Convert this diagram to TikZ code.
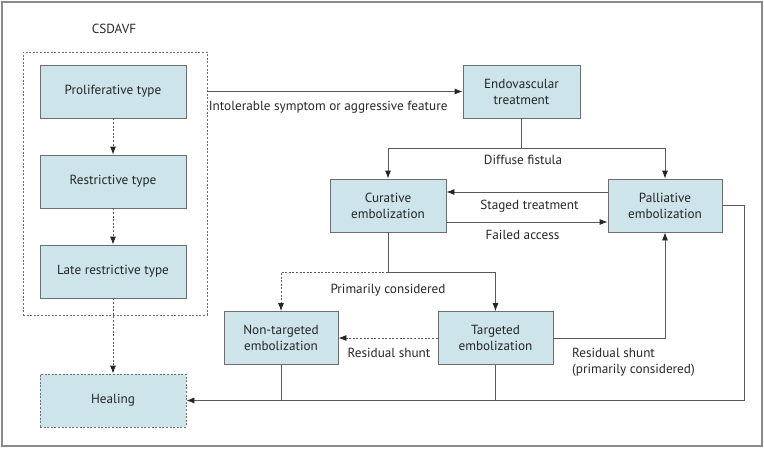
\documentclass[tikz,border=0pt]{standalone}
\usepackage{fontspec}
\setmainfont{PT Sans}
\usetikzlibrary{arrows.meta, positioning}

\definecolor{boxfill}{HTML}{CCE4EA}
\definecolor{boxline}{HTML}{6E6E6E}
\definecolor{wire}{HTML}{5A5A5A}
\definecolor{inkdark}{HTML}{262626}
\definecolor{frame}{HTML}{8A8A8A}

\begin{document}
\begin{tikzpicture}[
    x=1pt, y=-1pt,
    font=\fontsize{13.2}{16}\selectfont,
    text=inkdark,
    box/.style={
        draw=boxline,
        fill=boxfill,
        line width=0.8pt,
        minimum width=146pt,
        minimum height=53pt,
        align=center,
        inner sep=2pt,
    },
    smallbox/.style={
        box,
        minimum width=115pt,
    },
    dotbox/.style={
        draw=boxline,
        line width=0.8pt,
        dash pattern=on 2pt off 1.6pt,
    },
    flow/.style={
        draw=wire,
        line width=0.8pt,
        -{Latex[length=8pt, width=6pt, color=inkdark]},
    },
    plain/.style={
        draw=wire,
        line width=0.8pt,
    },
    dotflow/.style={
        flow,
        dash pattern=on 2pt off 1.6pt,
    },
    lbl/.style={
        inner sep=1pt,
        align=left,
    }
]
    % Frame
    \useasboundingbox (0,0) rectangle (764,448);
    \draw[frame, line width=1.2pt] (2,2) rectangle (762,446);

    % Stages
    \node (csdavf) at (114,29) {CSDAVF};
    \node[dotbox, minimum width=184pt, minimum height=263pt] (typegroup) at (115,183.5) {};
    \node[box] (prolif) at (113,91.5) {Proliferative type};
    \node[box] (restrict) at (113,181.5) {Restrictive type};
    \node[box] (laterestrict) at (113,271.5) {Late restrictive type};
    \node[box, dash pattern=on 2pt off 1.6pt] (healing) at (113,400.5) {Healing};

    % Treatment
    \node[smallbox, minimum width=117pt] (endo) at (521.5,91.5) {Endovascular\\treatment};
    \node[smallbox, minimum width=116pt] (curative) at (388,205.5) {Curative\\embolization};
    \node[smallbox, minimum width=114pt] (palliative) at (665,205.5) {Palliative\\embolization};
    \node[smallbox, minimum width=114pt] (nontargeted) at (281,338) {Non-targeted\\embolization};
    \node[smallbox, minimum width=115pt] (targeted) at (495.5,338) {Targeted\\embolization};

    % Turning points
    \coordinate (split) at (521.5,148);
    \coordinate (branch) at (388,272);
    \coordinate (rightturn) at (744,400.5);

    % Natural course
    \draw[dotflow] (prolif) -- (restrict);
    \draw[dotflow] (restrict) -- (laterestrict);
    \draw[dotflow] (laterestrict) -- (healing);

    % Into treatment
    \draw[flow] (typegroup.east |- endo) -- node[lbl, pos=0, anchor=north west, yshift=-8pt] (intolerable) {Intolerable symptom or aggressive feature} (endo);
    \draw[plain] (endo) -- (split);
    \draw[flow] (split) -| (curative);
    \draw[flow] (split) -| (palliative);
    \node[lbl] (diffuse) at (523,160) {Diffuse fistula};

    % Between curative and palliative
    \draw[flow] ([yshift=13.5pt]palliative.west) -- ([yshift=13.5pt]curative.east);
    \draw[flow] ([yshift=-16.5pt]curative.east) -- ([yshift=-16.5pt]palliative.west);
    \node[lbl] (staged) at (529.5,206) {Staged treatment};
    \node[lbl] (failed) at (522.5,235) {Failed access};

    % Curative outcomes
    \draw[plain] (curative) -- (branch);
    \draw[flow] (branch) -| (targeted);
    \draw[dotflow] (branch) -| (nontargeted);
    \node[lbl] (primarily) at (388,290) {Primarily considered};

    % Residual shunt
    \draw[dotflow] (targeted) -- (nontargeted);
    \node[lbl] (residual) at (389,353) {Residual shunt};
    \draw[flow] (targeted) -| (palliative);
    \node[lbl, anchor=north west] (residualpc) at (571,347) {Residual shunt\\(primarily considered)};

    % To healing
    \draw[flow] (palliative) -| (rightturn) -- (healing);
    \draw[plain] (nontargeted) -- (nontargeted.south |- healing);
    \draw[plain] (targeted) -- (targeted.south |- healing);
\end{tikzpicture}
\end{document}
